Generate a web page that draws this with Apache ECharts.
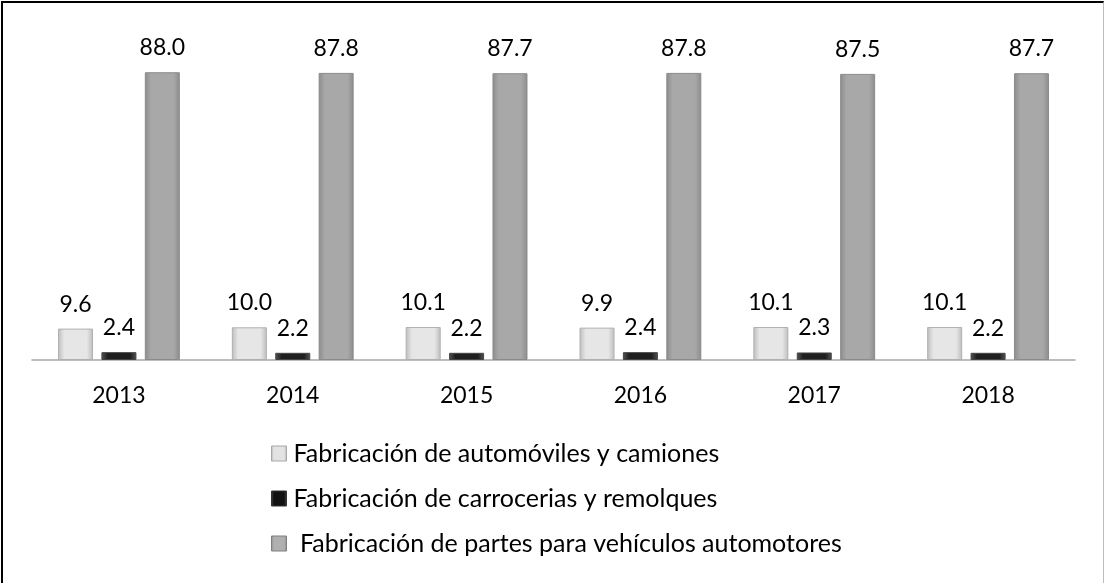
<!DOCTYPE html>
<html>
<head>
<meta charset="utf-8">
<script src="https://cdn.jsdelivr.net/npm/echarts@6/dist/echarts.min.js"></script>
<style>
  html, body { margin: 0; padding: 0; background: #fff; }
  #wrap { position: relative; width: 1104px; height: 583px; }
  #main { position: absolute; left: 0; top: 0; width: 1104px; height: 583px; }
  #frame { position: absolute; left: 1px; top: 1px; right: 0; bottom: 0; pointer-events: none;
           border-top: 2px solid #000; border-left: 2px solid #000; border-right: 1px solid #bdbdbd; }
</style>
</head>
<body>
<div id="wrap"><div id="main"></div><div id="frame"></div></div>
<script>
  var years = ['2013', '2014', '2015', '2016', '2017', '2018'];
  var autos = [9.6, 10.0, 10.1, 9.9, 10.1, 10.1];
  var carrocerias = [2.4, 2.2, 2.2, 2.4, 2.3, 2.2];
  var partes = [88.0, 87.8, 87.7, 87.8, 87.5, 87.7];

  var font = 'Lato, "Open Sans", sans-serif';

  function bevel(edge, mid) {
    return new echarts.graphic.LinearGradient(0, 0, 1, 0, [
      { offset: 0, color: edge },
      { offset: 0.18, color: mid },
      { offset: 0.82, color: mid },
      { offset: 1, color: edge }
    ]);
  }

  function labelCfg() {
    return {
      show: true,
      position: 'top',
      distance: 13,
      color: '#000',
      fontSize: 23,
      fontFamily: font,
      formatter: function (p) { return p.value.toFixed(1); }
    };
  }

  var myChart = echarts.init(document.getElementById('main'));
  var option = {
    backgroundColor: '#fff',
    animation: false,
    grid: { left: 32, right: 29, top: 33, bottom: 223 },
    legend: {
      orient: 'vertical',
      left: 266,
      top: 436,
      itemGap: 20,
      itemWidth: 15,
      itemHeight: 15,
      icon: 'rect',
      textStyle: { fontSize: 25, fontFamily: font, color: '#000', padding: [0, 0, 0, 2] },
      data: [
        { name: 'Fabricación de automóviles y camiones', itemStyle: { color: bevel('#b5b5b5', '#e3e3e3'), borderColor: '#a8a8a8', borderWidth: 1 } },
        { name: 'Fabricación de carrocerias y remolques', itemStyle: { color: bevel('#4a4a4a', '#111'), borderColor: '#333', borderWidth: 1 } },
        { name: ' Fabricación de partes para vehículos automotores', itemStyle: { color: bevel('#8a8a8a', '#b0b0b0'), borderColor: '#7f7f7f', borderWidth: 1 } }
      ]
    },
    xAxis: [{
      type: 'category',
      data: years,
      axisLine: { show: true, lineStyle: { color: '#a6a6a6', width: 1.5 } },
      axisTick: { show: false },
      axisLabel: { color: '#000', fontSize: 23, fontFamily: font, margin: 24 },
      splitLine: { show: false }
    }],
    yAxis: [{
      type: 'value',
      min: 0,
      max: 100,
      show: false,
      splitLine: { show: false }
    }],
    series: [
      {
        name: 'Fabricación de automóviles y camiones',
        type: 'bar',
        barWidth: 35,
        barGap: '24%',
        data: autos,
        itemStyle: { color: bevel('#bdbdbd', '#e6e6e6'), borderColor: '#b0b0b0', borderWidth: 1 },
        label: labelCfg()
      },
      {
        name: 'Fabricación de carrocerias y remolques',
        type: 'bar',
        barWidth: 35,
        data: carrocerias,
        itemStyle: { color: bevel('#555555', '#1f1f1f'), borderColor: '#444', borderWidth: 1 },
        label: labelCfg()
      },
      {
        name: ' Fabricación de partes para vehículos automotores',
        type: 'bar',
        barWidth: 35,
        data: partes,
        itemStyle: { color: bevel('#8c8c8c', '#a8a8a8'), borderColor: '#8a8a8a', borderWidth: 1 },
        label: labelCfg()
      }
    ]
  };
  myChart.setOption(option);
</script>
</body>
</html>
